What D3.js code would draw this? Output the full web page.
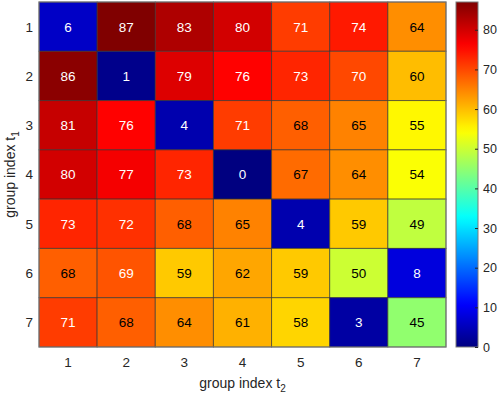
<!DOCTYPE html>
<html>
<head>
<meta charset="utf-8">
<script src="https://cdn.jsdelivr.net/npm/d3@7"></script>
<style>
  body { margin: 0; background: #fff; }
  text { font-family: "Liberation Sans", Arial, sans-serif; }
</style>
</head>
<body>
<div id="canvas"></div>
<script>
var rowLabels = ['1','2','3','4','5','6','7'];
var colLabels = ['1','2','3','4','5','6','7'];
var values = [
  [6, 87, 83, 80, 71, 74, 64],
  [86, 1, 79, 76, 73, 70, 60],
  [81, 76, 4, 71, 68, 65, 55],
  [80, 77, 73, 0, 67, 64, 54],
  [73, 72, 68, 65, 4, 59, 49],
  [68, 69, 59, 62, 59, 50, 8],
  [71, 68, 64, 61, 58, 3, 45]
];
var cbTicks = [0, 10, 20, 30, 40, 50, 60, 70, 80];

var W = 498, H = 395;
var m = {t: 2, l: 39},
    w = 446 - 39,
    h = 347 - 2;

var svg = d3.select('#canvas').append('svg')
    .attr('width', W).attr('height', H);

// jet colormap
function jet(t) {
  var c = function(v) { return Math.max(0, Math.min(1, v)); };
  return [c(1.5 - Math.abs(4*t - 3)), c(1.5 - Math.abs(4*t - 2)), c(1.5 - Math.abs(4*t - 1))];
}
var vmin = d3.min(values, function(r){ return d3.min(r); }),
    vmax = d3.max(values, function(r){ return d3.max(r); });
var norm = d3.scaleLinear().domain([vmin, vmax]).range([0, 1]);
function colorOf(v) {
  var c = jet(norm(v));
  return d3.rgb(c[0]*255, c[1]*255, c[2]*255).toString();
}
function textColor(v) {
  var c = jet(norm(v));
  return (0.299*c[0] + 0.587*c[1] + 0.114*c[2]) > 0.5 ? '#000' : '#fff';
}

var x = d3.scaleBand().domain(colLabels).range([0, w]);
var y = d3.scaleBand().domain(rowLabels).range([0, h]);

var plot = svg.append('g').attr('transform', 'translate(' + m.l + ',' + m.t + ')');

var cells = [];
values.forEach(function(row, i) {
  row.forEach(function(v, j) {
    cells.push({r: rowLabels[i], c: colLabels[j], v: v});
  });
});

plot.selectAll('.cell').data(cells).enter().append('rect')
    .attr('class', 'cell')
    .attr('x', function(d){ return x(d.c); })
    .attr('y', function(d){ return y(d.r); })
    .attr('width', x.bandwidth())
    .attr('height', y.bandwidth())
    .style('fill', function(d){ return colorOf(d.v); })
    .style('stroke', 'rgba(50,50,50,0.65)')
    .style('stroke-width', 1);

plot.selectAll('.val').data(cells).enter().append('text')
    .attr('class', 'val')
    .attr('x', function(d){ return x(d.c) + x.bandwidth()/2; })
    .attr('y', function(d){ return y(d.r) + y.bandwidth()/2; })
    .attr('dy', '0.36em')
    .attr('text-anchor', 'middle')
    .style('font-size', '13.5px')
    .style('fill', function(d){ return textColor(d.v); })
    .text(function(d){ return d.v; });

plot.append('rect')
    .attr('width', w).attr('height', h)
    .style('fill', 'none').style('stroke', '#7a7a7a').style('stroke-width', 1);

// tick labels
plot.selectAll('.ylab').data(rowLabels).enter().append('text')
    .attr('x', -6)
    .attr('y', function(d){ return y(d) + y.bandwidth()/2; })
    .attr('dy', '0.36em')
    .attr('text-anchor', 'end')
    .style('font-size', '13.5px').style('fill', '#262626')
    .text(function(d){ return d; });

plot.selectAll('.xlab').data(colLabels).enter().append('text')
    .attr('x', function(d){ return x(d) + x.bandwidth()/2; })
    .attr('y', h + 15)
    .attr('dy', '0.36em')
    .attr('text-anchor', 'middle')
    .style('font-size', '13.5px').style('fill', '#262626')
    .text(function(d){ return d; });

// axis titles
var xt = svg.append('text')
    .attr('x', m.l + w/2).attr('y', 388)
    .attr('text-anchor', 'middle')
    .style('font-size', '14px').style('fill', '#262626');
xt.append('tspan').text('group index t');
xt.append('tspan').attr('dy', 4).style('font-size', '10px').text('2');

var yt = svg.append('text')
    .attr('transform', 'translate(15,' + (m.t + h/2) + ') rotate(-90)')
    .attr('text-anchor', 'middle')
    .style('font-size', '14px').style('fill', '#262626');
yt.append('tspan').text('group index t');
yt.append('tspan').attr('dy', 4).style('font-size', '10px').text('1');

// colorbar
var cbX = 456, cbW = 22;
var cy = d3.scaleLinear().domain([vmin, vmax]).range([m.t + h, m.t]);
var grad = svg.append('defs').append('linearGradient')
    .attr('id', 'jetgrad')
    .attr('x1', 0).attr('y1', 1).attr('x2', 0).attr('y2', 0);
grad.selectAll('stop').data(d3.range(0, 1.0001, 0.02)).enter().append('stop')
    .attr('offset', function(d){ return d; })
    .attr('stop-color', function(d){ return colorOf(vmin + d*(vmax - vmin)); });

svg.append('rect')
    .attr('x', cbX).attr('y', cy(vmax))
    .attr('width', cbW).attr('height', cy(vmin) - cy(vmax))
    .style('fill', 'url(#jetgrad)')
    .style('stroke', '#7a7a7a').style('stroke-width', 1);

var cbAxis = d3.axisRight(cy).tickValues(cbTicks).tickSize(-3).tickPadding(5);
var cbg = svg.append('g')
    .attr('transform', 'translate(' + (cbX + cbW) + ',0)')
    .call(cbAxis);
cbg.select('.domain').remove();
cbg.selectAll('line').style('stroke', '#262626');
cbg.selectAll('text').style('font-size', '12.5px').style('fill', '#262626')
    .style('font-family', '"Liberation Sans", Arial, sans-serif');
</script>
</body>
</html>
